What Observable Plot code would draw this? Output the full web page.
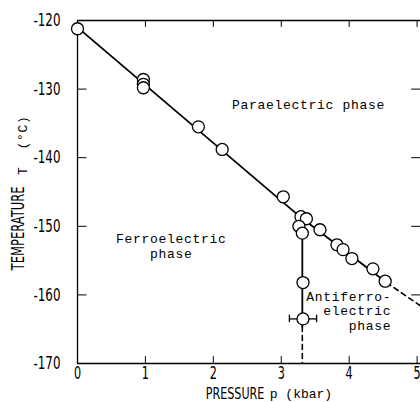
<!DOCTYPE html>
<html>
<head>
<meta charset="utf-8">
<script src="https://cdn.jsdelivr.net/npm/d3@7"></script>
<script src="https://cdn.jsdelivr.net/npm/@observablehq/plot@0.6"></script>
<style>
  html, body { margin: 0; padding: 0; background: #fff; }
  #chart svg { display: block; }
</style>
</head>
<body>
<div id="chart"></div>
<script>
// ---- data ----
const pressure = [0, 0.97, 0.97, 0.97, 1.78, 2.13, 3.03, 3.29, 3.37, 3.26, 3.31, 3.57, 3.82, 3.91, 4.04, 4.35, 4.53];
const temperature = [-121.2, -128.6, -129.3, -129.8, -135.5, -138.8, -145.7, -148.6, -148.9, -150.0, -151.0, -150.5, -152.7, -153.4, -154.7, -156.2, -158.0];

const errPressure = [3.32, 3.32];
const errTemperature = [-158.2, -163.5];
const errHalfWidth = [0.07, 0.2];

// phase boundaries
const boundaryFP = { p: [0, 3.3], T: [-121, -148.8] };
const boundaryAP = { p: [3.3, 4.55], T: [-148.8, -158.2] };
const boundaryAPdash = { p: [4.55, 5.05], T: [-158.2, -161.6] };
const boundaryFA = { p: [3.31, 3.31], T: [-149, -164.6] };
const boundaryFAdash = { p: [3.31, 3.31], T: [-164.6, -170] };

const xTicks = [0, 1, 2, 3, 4, 5];
const yTicks = [-120, -130, -140, -150, -160, -170];

const phaseLabels = [
  { text: "Paraelectric phase", p: 3.40, T: -132.1, anchor: "middle" },
  { text: "Ferroelectric\nphase", p: 1.38, T: -152.8, anchor: "middle" },
  { text: "Antiferro-\nelectric\nphase", p: 4.62, T: -162.3, anchor: "end" }
];

// axis titles (placed in data units, outside the frame)
const yTitle = [{ text: "TEMPERATURE", p: -0.87, T: -150.3 }];
const yTitleSym = [{ text: "T  (°C)", p: -0.80, T: -138.2 }];
const xTitle = [{ text: "PRESSURE", p: 2.32, T: -174.4 }];
const xTitleSym = [{ text: "p (kbar)", p: 3.29, T: -174.4 }];

// ---- build ----
const pts = pressure.map((p, i) => ({ p, T: temperature[i] }));
const errs = errPressure.map((p, i) => ({ p, T: errTemperature[i], h: errHalfWidth[i] }));
const seg = b => b.p.map((p, i) => ({ p, T: b.T[i] }));

const condensed = "'DejaVu Sans', sans-serif";
const mono = "'Liberation Mono', 'DejaVu Sans Mono', monospace";

const xmin = 0, xmax = 5.05, ymin = -170, ymax = -120;

const chart = Plot.plot({
  width: 420,
  height: 402,
  marginLeft: 77,
  marginRight: 0,
  marginTop: 20,
  marginBottom: 39,
  style: { background: "#fff", color: "#000", overflow: "visible" },
  x: { domain: [xmin, xmax] },
  y: { domain: [ymin, ymax] },
  marks: [
    // frame (top, bottom, left)
    Plot.ruleY([ymax, ymin], { x1: xmin, x2: xmax, stroke: "#000", strokeWidth: 1.3 }),
    Plot.ruleX([xmin], { y1: ymin, y2: ymax, stroke: "#000", strokeWidth: 1.3 }),
    // inward ticks
    Plot.ruleX(xTicks.filter(d => d > 0), { y1: ymin, y2: ymin + 1.0, stroke: "#000", strokeWidth: 1 }),
    Plot.ruleX(xTicks.filter(d => d > 0), { y1: ymax, y2: ymax - 1.0, stroke: "#000", strokeWidth: 1 }),
    Plot.ruleY(yTicks.filter(d => d > ymin && d < ymax), { x1: xmin, x2: xmin + 0.14, stroke: "#000", strokeWidth: 1 }),
    Plot.ruleY(yTicks.filter(d => d > ymin && d < ymax), { x1: xmax - 0.13, x2: xmax, stroke: "#000", strokeWidth: 1 }),
    // axis labels
    Plot.axisY({ ticks: yTicks, tickSize: 0, tickPadding: 17, tickFormat: d => String(d), fontSize: 18, fontFamily: condensed, label: null }),
    Plot.axisX({ ticks: xTicks, tickSize: 0, tickPadding: 3, tickFormat: d => String(d), fontSize: 17, fontFamily: condensed, label: null }),
    // boundaries
    Plot.line(seg(boundaryFP), { x: "p", y: "T", stroke: "#000", strokeWidth: 1.8 }),
    Plot.line(seg(boundaryAP), { x: "p", y: "T", stroke: "#000", strokeWidth: 1.8 }),
    Plot.line(seg(boundaryAPdash), { x: "p", y: "T", stroke: "#000", strokeWidth: 1.6, strokeDasharray: "5,4" }),
    Plot.line(seg(boundaryFA), { x: "p", y: "T", stroke: "#000", strokeWidth: 1.8 }),
    Plot.line(seg(boundaryFAdash), { x: "p", y: "T", stroke: "#000", strokeWidth: 1.6, strokeDasharray: "5,4" }),
    // error bars
    Plot.ruleY(errs, { y: "T", x1: d => d.p - d.h, x2: d => d.p + d.h, stroke: "#000", strokeWidth: 1.3 }),
    Plot.ruleX(errs, { x: d => d.p - d.h, y1: d => d.T - 0.55, y2: d => d.T + 0.55, stroke: "#000", strokeWidth: 1.3 }),
    Plot.ruleX(errs, { x: d => d.p + d.h, y1: d => d.T - 0.55, y2: d => d.T + 0.55, stroke: "#000", strokeWidth: 1.3 }),
    // data points
    Plot.dot(pts, { x: "p", y: "T", r: 6, fill: "#fff", stroke: "#000", strokeWidth: 1.3 }),
    Plot.dot(errs, { x: "p", y: "T", r: 6, fill: "#fff", stroke: "#000", strokeWidth: 1.3 }),
    // phase labels
    Plot.text(phaseLabels.filter(d => d.anchor === "middle"), { x: "p", y: "T", text: "text", textAnchor: "middle", lineHeight: 1.2, fontSize: 13, fontFamily: mono, fill: "#000", className: "spaced" }),
    Plot.text(phaseLabels.filter(d => d.anchor === "end"), { x: "p", y: "T", text: "text", textAnchor: "end", lineHeight: 1.1, fontSize: 13, fontFamily: mono, fill: "#000", className: "spaced" }),
    // axis titles
    Plot.text(yTitle, { x: "p", y: "T", text: "text", rotate: -90, fontSize: 17.5, fontFamily: condensed, fill: "#000", clip: false }),
    Plot.text(yTitleSym, { x: "p", y: "T", text: "text", rotate: -90, fontSize: 13, fontFamily: mono, fill: "#000", clip: false, className: "spaced" }),
    Plot.text(xTitle, { x: "p", y: "T", text: "text", fontSize: 15.5, fontFamily: condensed, fill: "#000", clip: false, className: "wide" }),
    Plot.text(xTitleSym, { x: "p", y: "T", text: "text", fontSize: 13, fontFamily: mono, fill: "#000", clip: false })
  ]
});

// typewriter letter spacing for some mono labels; narrow the sans labels
chart.querySelectorAll("text").forEach(t => {
  let ff = t.getAttribute("font-family") || "";
  let cls = t.getAttribute("class") || "";
  let el = t.parentNode;
  while (el && el.getAttribute) {
    if (!ff) ff = el.getAttribute("font-family") || "";
    cls += " " + (el.getAttribute("class") || "");
    el = el.parentNode;
  }
  if (ff.includes("Mono")) {
    if (cls.includes("spaced")) t.setAttribute("letter-spacing", "0.7");
  } else if (ff.includes("DejaVu Sans")) {
    const k = cls.includes("wide") ? 0.72 : 0.66;
    const tr = t.getAttribute("transform") || "";
    const x = +(t.getAttribute("x") || 0), y = +(t.getAttribute("y") || 0);
    if (x || y) {
      t.removeAttribute("x"); t.removeAttribute("y");
      t.setAttribute("transform", `${tr} translate(${x},${y}) scale(${k},1)`);
    } else {
      t.setAttribute("transform", `${tr} scale(${k},1)`);
    }
  }
});

document.getElementById("chart").append(chart);
</script>
</body>
</html>
